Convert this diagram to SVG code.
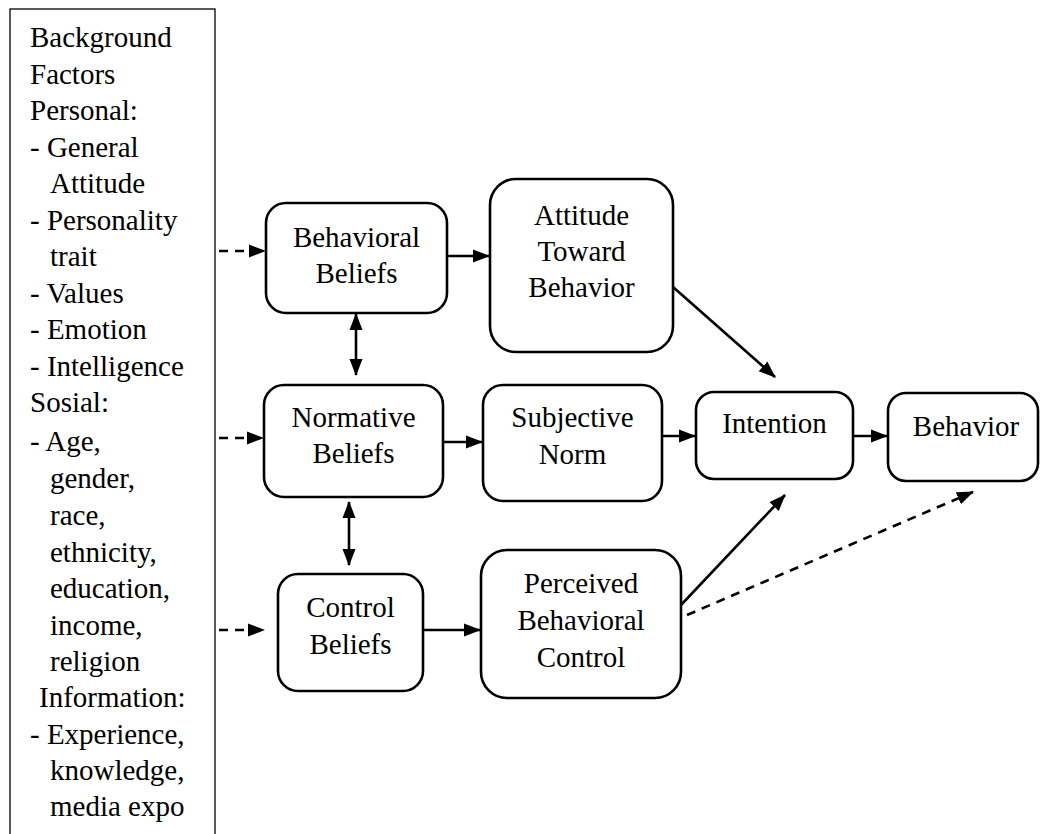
<svg xmlns="http://www.w3.org/2000/svg" width="1040" height="834" viewBox="0 0 1040 834">
<style>
.t{font-family:"Liberation Serif","Times New Roman",serif;font-size:29px;fill:#000}
.c{text-anchor:middle}
.box{fill:#fff;stroke:#000;stroke-width:2.6}
.ln{stroke:#000;stroke-width:2.6;fill:none;marker-end:url(#ah)}
.dash{stroke-dasharray:9,7}
.bi{marker-start:url(#ah)}
</style>
<defs>
<marker id="ah" markerUnits="userSpaceOnUse" markerWidth="18" markerHeight="14" refX="16" refY="7" orient="auto-start-reverse">
<path d="M0,0.5 L17,7 L0,13.5 z" fill="#000"/>
</marker>
</defs>
<rect width="1040" height="834" fill="#fff"/>
<g id="background-factors">
<rect x="10" y="9" width="205" height="840" fill="#fff" stroke="#000" stroke-width="1.3"/>
<text class="t" x="30" y="47">Background</text>
<text class="t" x="30" y="83.5">Factors</text>
<text class="t" x="30" y="120">Personal:</text>
<text class="t" x="30" y="156.5">- General</text>
<text class="t" x="50" y="193">Attitude</text>
<text class="t" x="30" y="229.5">- Personality</text>
<text class="t" x="50" y="266">trait</text>
<text class="t" x="30" y="302.5">- Values</text>
<text class="t" x="30" y="339">- Emotion</text>
<text class="t" x="30" y="375.5">- Intelligence</text>
<text class="t" x="30" y="412">Sosial:</text>
<text class="t" x="30" y="451">- Age,</text>
<text class="t" x="50" y="488">gender,</text>
<text class="t" x="50" y="525">race,</text>
<text class="t" x="50" y="561.5">ethnicity,</text>
<text class="t" x="50" y="598">education,</text>
<text class="t" x="50" y="634.5">income,</text>
<text class="t" x="50" y="671">religion</text>
<text class="t" x="39" y="707">Information:</text>
<text class="t" x="30" y="743.5">- Experience,</text>
<text class="t" x="50" y="780">knowledge,</text>
<text class="t" x="50" y="816">media expo</text>
</g>
<g id="behavioral-beliefs">
<rect class="box" x="266" y="203" width="181" height="110" rx="20"/>
<text class="t c" x="356.5" y="247">Behavioral</text>
<text class="t c" x="356.5" y="283">Beliefs</text>
</g>
<g id="attitude">
<rect class="box" x="490" y="179" width="183" height="173" rx="26"/>
<text class="t c" x="581.5" y="225">Attitude</text>
<text class="t c" x="581.5" y="261">Toward</text>
<text class="t c" x="581.5" y="297">Behavior</text>
</g>
<g id="normative-beliefs">
<rect class="box" x="264" y="385" width="179" height="112" rx="20"/>
<text class="t c" x="353.5" y="427">Normative</text>
<text class="t c" x="353.5" y="463">Beliefs</text>
</g>
<g id="subjective-norm">
<rect class="box" x="483" y="385" width="179" height="116" rx="20"/>
<text class="t c" x="572.5" y="427">Subjective</text>
<text class="t c" x="572.5" y="464">Norm</text>
</g>
<g id="control-beliefs">
<rect class="box" x="278" y="574" width="145" height="117" rx="20"/>
<text class="t c" x="350.5" y="617">Control</text>
<text class="t c" x="350.5" y="654">Beliefs</text>
</g>
<g id="perceived-behavioral-control">
<rect class="box" x="481" y="550" width="200" height="148" rx="26"/>
<text class="t c" x="581" y="593">Perceived</text>
<text class="t c" x="581" y="630">Behavioral</text>
<text class="t c" x="581" y="667">Control</text>
</g>
<g id="intention">
<rect class="box" x="696" y="392" width="157" height="87" rx="18"/>
<text class="t c" x="774.5" y="433">Intention</text>
</g>
<g id="behavior">
<rect class="box" x="888" y="393" width="150" height="88" rx="18"/>
<text class="t c" x="966" y="436">Behavior</text>
</g>
<g id="connectors">
<line class="ln dash" x1="219" y1="251" x2="265" y2="251"/>
<line class="ln dash" x1="219" y1="438" x2="263" y2="438"/>
<line class="ln dash" x1="219" y1="630" x2="264" y2="630"/>
<line class="ln" x1="447" y1="256" x2="489" y2="256"/>
<line class="ln" x1="443" y1="442" x2="482" y2="442"/>
<line class="ln" x1="423" y1="630" x2="480" y2="630"/>
<line class="ln" x1="662" y1="436" x2="695" y2="436"/>
<line class="ln" x1="853" y1="436" x2="887" y2="436"/>
<line class="ln bi" x1="356" y1="314" x2="356" y2="375"/>
<line class="ln bi" x1="349" y1="502" x2="349" y2="565"/>
<line class="ln" x1="673" y1="287" x2="775" y2="377"/>
<line class="ln" x1="681" y1="605" x2="785" y2="495"/>
<line class="ln dash" x1="687" y1="615" x2="973" y2="492"/>
</g>
</svg>
